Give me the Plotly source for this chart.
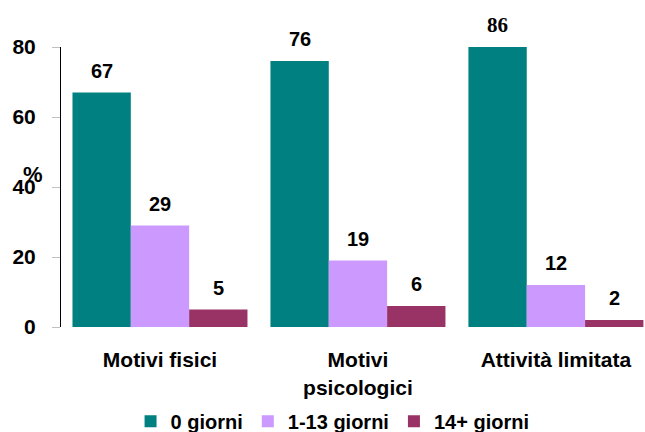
import plotly.graph_objects as go

categories = ['Motivi fisici', 'Motivi<br>psicologici', 'Attività limitata']
series_names = ['0 giorni', '1-13 giorni', '14+ giorni']
zero_days = [67, 76, 86]
one_13_days = [29, 19, 12]
fourteen_plus = [5, 6, 2]
colors = ['#008080', '#CC99FF', '#993366']
y_ticks = [0, 20, 40, 60, 80]

series = [zero_days, one_13_days, fourteen_plus]

fig = go.Figure()
for name, vals, col in zip(series_names, series, colors):
    fig.add_trace(go.Bar(
        x=categories, y=vals, name=name,
        marker=dict(color=col, line=dict(width=0)),
    ))

# value labels above the bars (86 sits above the clipped bar, in a serif face)
annotations = []
offsets = [-0.295, 0, 0.295]
for vals, off in zip(series, offsets):
    for i, v in enumerate(vals):
        serif = v > 80
        annotations.append(dict(
            x=i + off, y=min(v, 80), xref='x', yref='y',
            text=str(v), showarrow=False, yshift=22,
            font=dict(size=21 if serif else 20, color='black', weight='bold',
                      family='Liberation Serif' if serif else 'Liberation Sans'),
        ))

# the "%" axis label, overlapping the 40 tick like the original
annotations.append(dict(
    x=0, y=0.543, xref='x domain', yref='paper', xshift=-40,
    text='%', showarrow=False,
    font=dict(size=22, color='black', weight='bold', family='Liberation Sans'),
))

fig.update_layout(
    width=645, height=432,
    margin=dict(l=61, r=0, t=47, b=105),
    paper_bgcolor='white', plot_bgcolor='white',
    barmode='group', bargap=0.116, bargroupgap=0,
    font=dict(family='Liberation Sans', color='black'),
    annotations=annotations,
    legend=dict(orientation='h', x=0.465, xanchor='center',
                yref='container', y=0.025, yanchor='middle',
                font=dict(size=20, weight='bold', family='Liberation Sans'),
                itemwidth=30),
    xaxis=dict(range=[-0.5, 2.45], showline=False, showgrid=False, automargin=False,
               ticks='outside', ticklen=14, tickcolor='rgba(0,0,0,0)',
               tickfont=dict(size=21, weight='bold', family='Liberation Sans')),
    yaxis=dict(range=[0, 80], tickvals=y_ticks, showgrid=False, zeroline=False,
               automargin=False,
               showline=True, linecolor='black', linewidth=1,
               ticks='outside', ticklen=8, tickcolor='#c0c0c0', tickwidth=1,
               ticklabelstandoff=12,
               tickfont=dict(size=21, weight='bold', family='Liberation Sans')),
)

# drop the page's default body margin so the chart sits at the window corner
fig.write_html('out.html', config={'displayModeBar': False},
               post_script="document.body.style.margin='0';")
